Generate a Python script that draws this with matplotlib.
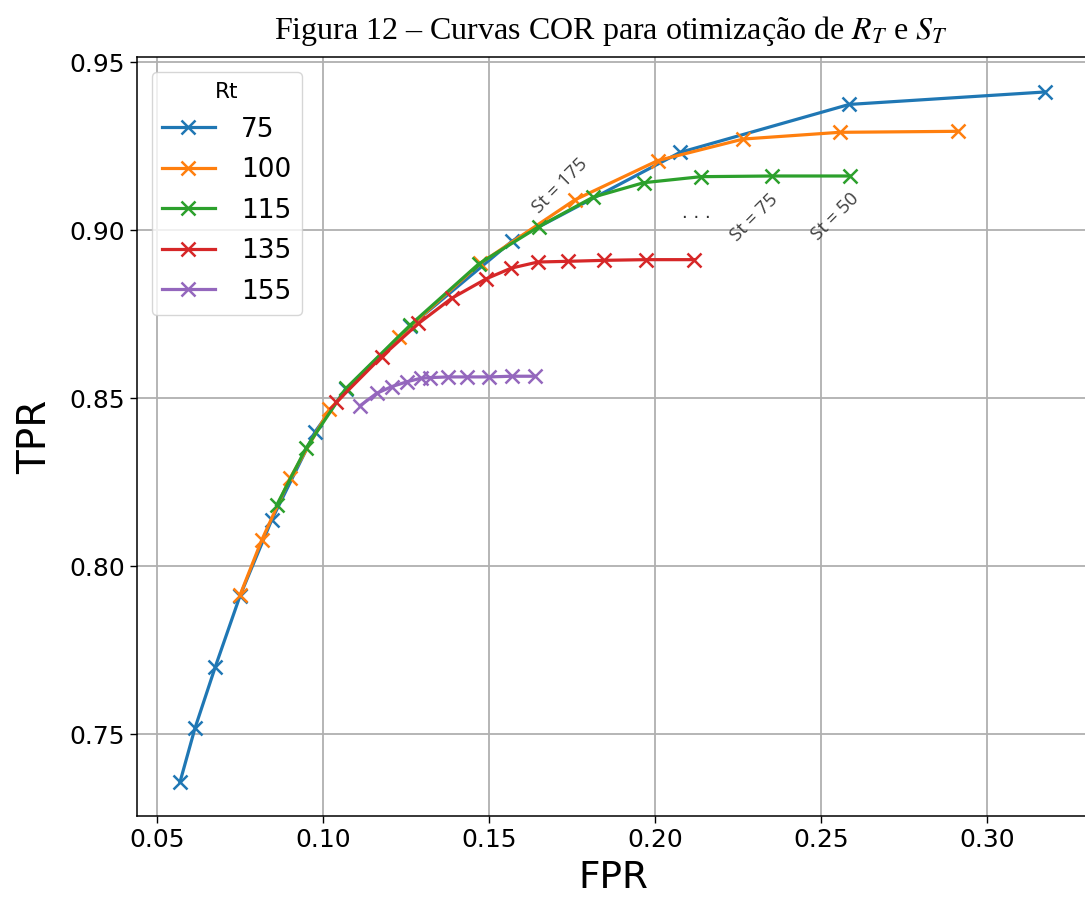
import matplotlib
matplotlib.use("Agg")
import matplotlib.pyplot as plt
import numpy as np

# ROC points (FPR, TPR) for each Rt, sweeping St
rt_labels = ["75", "100", "115", "135", "155"]

fpr_75 = [0.0570, 0.0615, 0.0676, 0.0751, 0.0846, 0.0977, 0.1070, 0.1263, 0.1571, 0.2075, 0.2585, 0.3173]
tpr_75 = [0.7357, 0.7517, 0.7699, 0.7912, 0.8137, 0.8400, 0.8527, 0.8714, 0.8968, 0.9231, 0.9374, 0.9411]

fpr_100 = [0.0751, 0.0816, 0.0901, 0.1020, 0.1228, 0.1474, 0.1759, 0.2009, 0.2266, 0.2556, 0.2913]
tpr_100 = [0.7914, 0.8077, 0.8261, 0.8466, 0.8682, 0.8901, 0.9090, 0.9207, 0.9271, 0.9291, 0.9294]

fpr_115 = [0.0861, 0.0950, 0.1070, 0.1263, 0.1469, 0.1650, 0.1814, 0.1966, 0.2139, 0.2352, 0.2586]
tpr_115 = [0.8181, 0.8352, 0.8529, 0.8717, 0.8899, 0.9010, 0.9098, 0.9141, 0.9159, 0.9161, 0.9161]

fpr_135 = [0.1040, 0.1177, 0.1288, 0.1388, 0.1492, 0.1568, 0.1648, 0.1737, 0.1848, 0.1972, 0.2118]
tpr_135 = [0.8487, 0.8623, 0.8722, 0.8797, 0.8855, 0.8887, 0.8905, 0.8907, 0.8910, 0.8912, 0.8912]

fpr_155 = [0.1112, 0.1162, 0.1207, 0.1255, 0.1295, 0.1323, 0.1378, 0.1433, 0.1501, 0.1569, 0.1639]
tpr_155 = [0.8477, 0.8514, 0.8534, 0.8549, 0.8559, 0.8561, 0.8563, 0.8563, 0.8563, 0.8565, 0.8565]

x_ticks = [0.05, 0.10, 0.15, 0.20, 0.25, 0.30]
y_ticks = [0.75, 0.80, 0.85, 0.90, 0.95]

st_notes = ["St = 175", "St = 75", "St = 50"]
st_note_x = [0.1713, 0.2298, 0.2543]
st_note_y = [0.9131, 0.9038, 0.9040]

series = [(fpr_75, tpr_75), (fpr_100, tpr_100), (fpr_115, tpr_115),
          (fpr_135, tpr_135), (fpr_155, tpr_155)]
colors = ["#1f77b4", "#ff7f0e", "#2ca02c", "#d62728", "#9467bd"]

plt.rcParams["mathtext.fontset"] = "stix"

fig = plt.figure(figsize=(10.85, 9.0), dpi=100)
ax = fig.add_axes([0.1263, 0.0933, 0.8774, 0.8433])

for (fx, ty), lab, c in zip(series, rt_labels, colors):
    ax.plot(fx, ty, marker="x", color=c, label=lab, linewidth=2.3,
            markersize=10.5, markeredgewidth=1.8)

ax.set_xlim(0.04407, 0.3307)
ax.set_ylim(0.7256, 0.9515)
ax.set_xticks(x_ticks)
ax.set_yticks(y_ticks)
ax.set_xticklabels([f"{v:.2f}" for v in x_ticks])
ax.set_yticklabels([f"{v:.2f}" for v in y_ticks])
ax.tick_params(labelsize=18, length=5, width=1.0)
ax.grid(True, color="#b0b0b0", linewidth=1.3)
ax.set_axisbelow(True)
for s in ax.spines.values():
    s.set_linewidth(1.1)

ax.set_xlabel("FPR", fontsize=27, labelpad=6)
ax.set_ylabel("TPR", fontsize=28, labelpad=11)

leg = ax.legend(title="Rt", loc="upper left", fontsize=19, title_fontsize=15.5,
                borderaxespad=0.55, handlelength=2.0, labelspacing=0.55,
                handletextpad=1.0)

for txt, xx, yy in zip(st_notes, st_note_x, st_note_y):
    ax.text(xx, yy, txt, rotation=45, fontsize=13.5, color="#404040",
            ha="center", va="center", family="Open Sans")
ax.text(0.2124, 0.9050, ". . .", fontsize=13, color="#303030",
        ha="center", va="center")

fig.text(0.563, 0.966, r"Figura 12 – Curvas COR para otimização de $R_T$ e $S_T$",
         ha="center", va="center", fontsize=23, family="Liberation Serif")

fig.savefig("out.png", dpi=100)
